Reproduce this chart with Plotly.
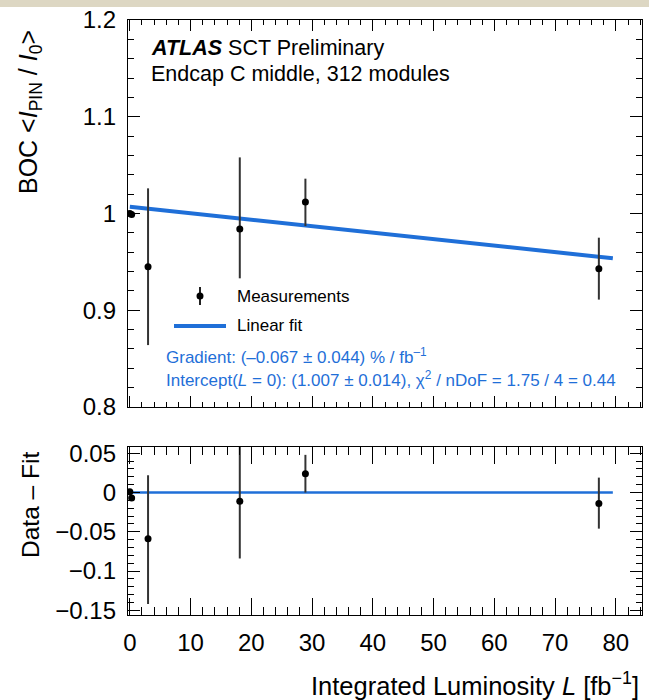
import plotly.graph_objects as go

# ---------------- data ----------------
lumi = [0.0, 0.3, 3.0, 18.1, 28.9, 77.2]
boc = [1.000, 0.999, 0.945, 0.984, 1.012, 0.943]
boc_err_up = [0.002, 0.002, 0.081, 0.074, 0.024, 0.032]
boc_err_dn = [0.002, 0.002, 0.081, 0.051, 0.025, 0.032]

resid = [0.001, -0.007, -0.059, -0.011, 0.024, -0.014]
resid_err_up = [0.002, 0.002, 0.081, 0.075, 0.024, 0.033]
resid_err_dn = [0.002, 0.002, 0.083, 0.073, 0.024, 0.032]

fit_x = [0.0, 79.5]
fit_y = [1.007, 0.9537]
zero_x = [0.0, 79.5]
zero_y = [0.0, 0.0]

# ---------------- layout helpers ----------------
W, H = 649, 700
ML, MR, MT, MB = 128, 7, 20, 85
PW = W - ML - MR
PH = H - MT - MB


def px(x):
    return (x - ML) / PW


def py(y):
    return (H - MB - y) / PH


top_dom = [py(407), 1.0]
bot_dom = [0.0, py(447)]

BLUE = "#1f6fd8"
FONT = "Liberation Sans, Arial, sans-serif"

fig = go.Figure()

fig.add_trace(go.Scatter(
    x=fit_x, y=fit_y, mode="lines", line=dict(color=BLUE, width=4),
    xaxis="x", yaxis="y", showlegend=False, hoverinfo="skip"))
fig.add_trace(go.Scatter(
    x=lumi, y=boc, mode="markers",
    marker=dict(color="black", size=7, symbol="circle"),
    error_y=dict(type="data", symmetric=False, array=boc_err_up,
                 arrayminus=boc_err_dn, color="#333333", thickness=2, width=0),
    xaxis="x", yaxis="y", showlegend=False))

fig.add_trace(go.Scatter(
    x=zero_x, y=zero_y, mode="lines", line=dict(color=BLUE, width=2.5),
    xaxis="x2", yaxis="y2", showlegend=False, hoverinfo="skip"))
fig.add_trace(go.Scatter(
    x=lumi, y=resid, mode="markers",
    marker=dict(color="black", size=7, symbol="circle"),
    error_y=dict(type="data", symmetric=False, array=resid_err_up,
                 arrayminus=resid_err_dn, color="#333333", thickness=2, width=0),
    xaxis="x2", yaxis="y2", showlegend=False))

xrange = [-0.3, 84.3]
common_x = dict(range=xrange, dtick=10, tick0=0, ticks="inside", tickwidth=1.3,
                tickcolor="black", showline=True, linecolor="black", linewidth=1.3,
                mirror="ticks", showgrid=False, zeroline=False, automargin=False,
                tickfont=dict(family=FONT, size=24, color="black"))
common_y = dict(ticks="inside", tickwidth=1.3, tickcolor="black", showline=True,
                linecolor="black", linewidth=1.3, mirror="ticks", showgrid=False,
                zeroline=False, automargin=False, ticklen=12,
                tickfont=dict(family=FONT, size=24, color="black"),
                ticklabelstandoff=6)

fig.update_layout(
    width=W, height=H,
    margin=dict(l=ML, r=MR, t=MT, b=MB),
    paper_bgcolor="white", plot_bgcolor="white",
    font=dict(family=FONT, color="black"),
    xaxis=dict(**common_x, domain=[0, 1], anchor="y", showticklabels=False,
               ticklen=11, minor=dict(dtick=2, tick0=0, ticklen=5, ticks="inside",
                                      tickcolor="black", tickwidth=1.3)),
    yaxis=dict(**common_y, domain=top_dom, anchor="x", range=[0.8, 1.2], dtick=0.1,
               tick0=0.8,
               minor=dict(dtick=0.02, tick0=0.8, ticklen=6, ticks="inside",
                          tickcolor="black", tickwidth=1.3)),
    xaxis2=dict(**common_x, domain=[0, 1], anchor="y2", showticklabels=True,
                ticklen=17, ticklabelstandoff=6,
                minor=dict(dtick=2, tick0=0, ticklen=8, ticks="inside",
                           tickcolor="black", tickwidth=1.3)),
    yaxis2=dict(**common_y, domain=bot_dom, anchor="x2", range=[-0.156, 0.058],
                dtick=0.05, tick0=0,
                minor=dict(dtick=0.01, tick0=0, ticklen=6, ticks="inside",
                           tickcolor="black", tickwidth=1.3)),
)

shapes = []
# beige band at the very top of the page
shapes.append(dict(type="rect", xref="paper", yref="paper", x0=px(0), x1=px(W),
                   y0=py(7), y1=py(0), fillcolor="#DDD7C3", line=dict(width=0),
                   layer="below"))
# hand-drawn legend glyphs
shapes.append(dict(type="line", xref="paper", yref="paper", x0=px(200), x1=px(200),
                   y0=py(305), y1=py(287), line=dict(color="#222", width=2)))
shapes.append(dict(type="circle", xref="paper", yref="paper", x0=px(196.5), x1=px(203.5),
                   y0=py(299.5), y1=py(292.5), fillcolor="black", line=dict(color="black", width=0)))
shapes.append(dict(type="line", xref="paper", yref="paper", x0=px(174), x1=px(226),
                   y0=py(326), y1=py(326), line=dict(color=BLUE, width=4)))
fig.update_layout(shapes=shapes)

ann = []


def text(x, y, s, size, color="black", xanchor="left", yanchor="middle", angle=0):
    ann.append(dict(xref="paper", yref="paper", x=px(x), y=py(y), text=s,
                    showarrow=False, xanchor=xanchor, yanchor=yanchor,
                    textangle=angle, font=dict(family=FONT, size=size, color=color)))


text(149, 48, "<b><i>ATLAS</i></b> SCT Preliminary", 21.5)
text(149, 74, "Endcap C middle, 312 modules", 21.5)
text(235, 296, "Measurements", 17)
text(235, 326, "Linear fit", 17)
text(164, 356, "Gradient: (\u20130.067 \u00b1 0.044) % / fb<sup>\u20131</sup>", 17, BLUE)
text(164, 379, "Intercept(<i>L</i> = 0): (1.007 \u00b1 0.014), \u03c7<sup>2</sup> / nDoF = 1.75 / 4 = 0.44",
     17, BLUE)
# axis titles
text(30, 28, "BOC &lt;<i>I</i><sub>PIN</sub> / <i>I</i><sub>0</sub>&gt;", 25,
     xanchor="center", yanchor="top", angle=-90)
text(30, 505, "Data \u2013 Fit", 24.5, xanchor="center", yanchor="middle", angle=-90)
text(641, 684, "Integrated Luminosity <i>L</i> [fb<sup>\u22121</sup>]", 25.5,
     xanchor="right", yanchor="middle")
fig.update_layout(annotations=ann)

fig.write_html("out.html")
